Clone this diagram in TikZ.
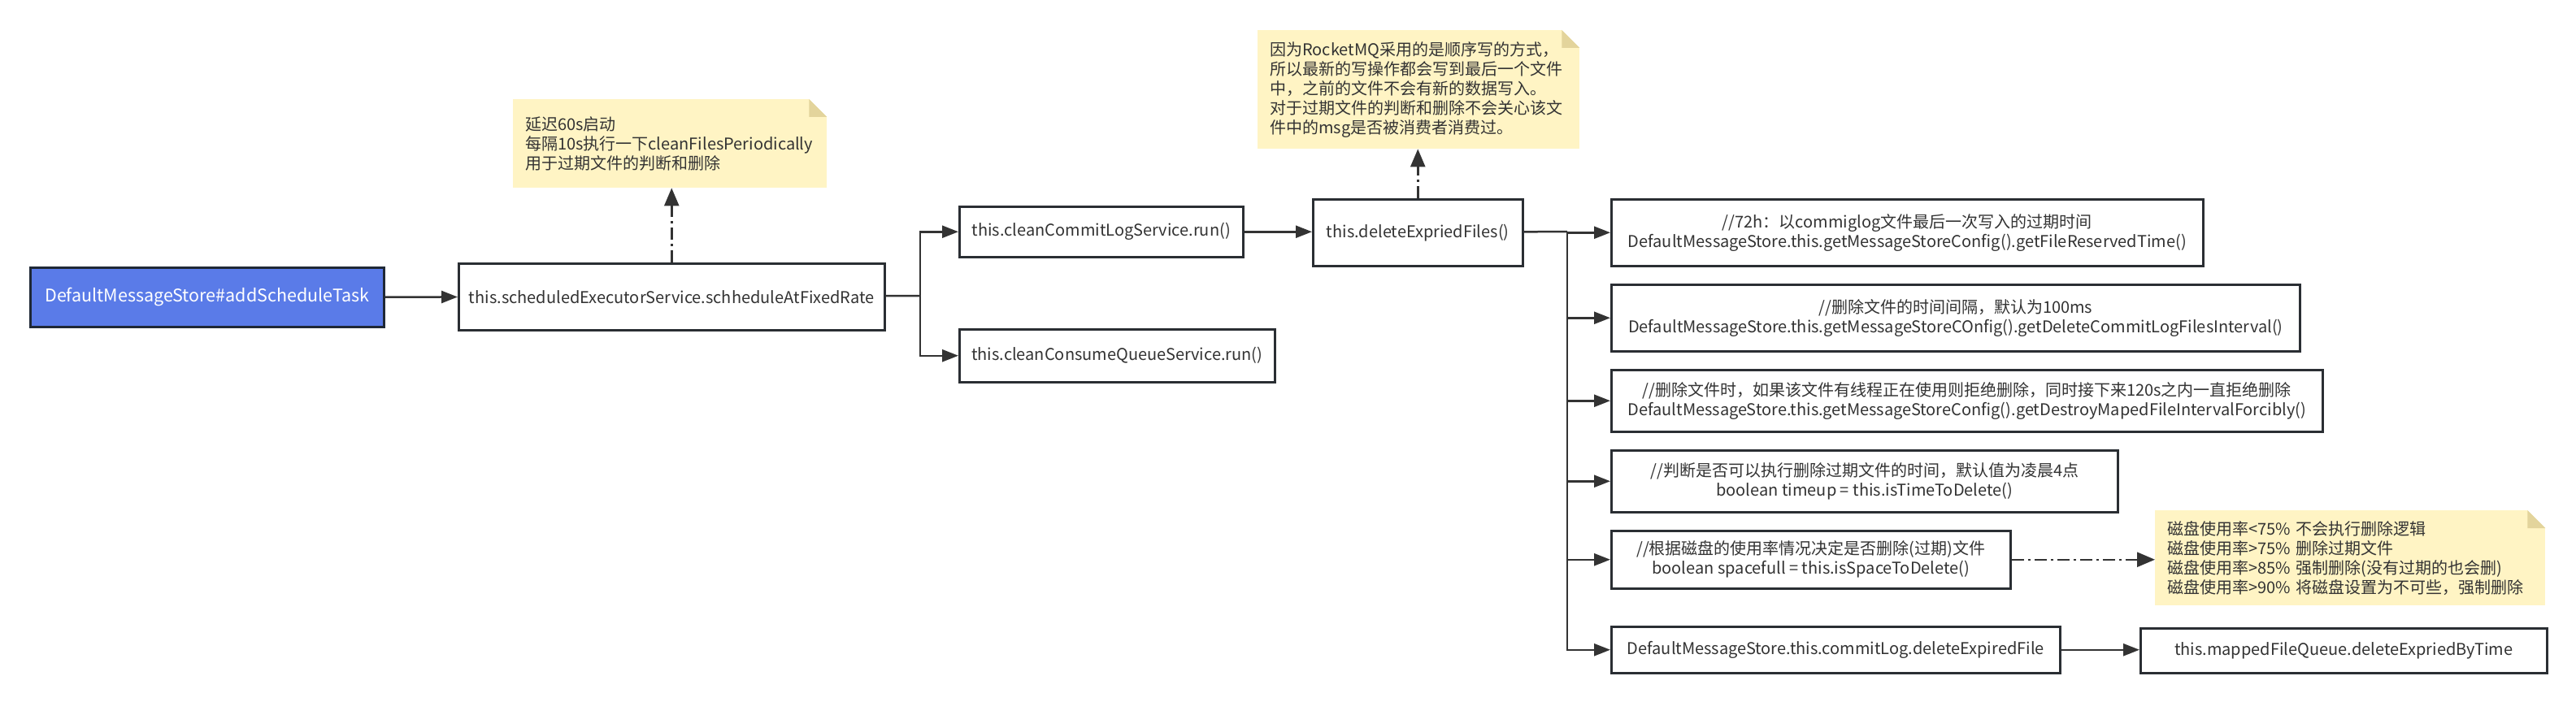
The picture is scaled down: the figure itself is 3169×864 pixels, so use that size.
\documentclass[tikz,border=0pt]{standalone}
\usepackage{fontspec}
\setmainfont{Noto Sans CJK SC}
\usetikzlibrary{arrows.meta, positioning}

\definecolor{blueTask}{HTML}{5A7BE8}
\definecolor{blueEdge}{HTML}{1F2836}
\definecolor{boxline}{HTML}{2A2E33}
\definecolor{linegray}{HTML}{333333}
\definecolor{textgray}{HTML}{333333}
\definecolor{notefill}{HTML}{FFF4C4}
\definecolor{notefoldc}{HTML}{E3D49C}

% folded corner of a note
\newcommand{\notefold}[1]{%
  \fill[white] ([xshift=-22pt]#1.north east) -- (#1.north east) -- ([yshift=-22pt]#1.north east) -- cycle;
  \fill[notefoldc] ([xshift=-22pt]#1.north east) -- ([xshift=-22pt,yshift=-22pt]#1.north east) -- ([yshift=-22pt]#1.north east) -- cycle;}

\begin{document}
\begin{tikzpicture}[x=1pt, y=-1pt,
  font=\fontsize{20pt}{24pt}\selectfont,
  box/.style={draw=boxline, line width=2.5pt, fill=white, text=textgray, align=center, inner sep=0pt, anchor=north west},
  note/.style={fill=notefill, text=textgray, align=left, inner xsep=15pt, inner ysep=0pt, anchor=north west},
  link/.style={draw=linegray, line width=2.5pt},
  flow/.style={link, -{Triangle[length=20pt,width=15pt]}},
  hint/.style={link, dash pattern={on 15pt off 5pt on 3pt off 5pt}, -{Triangle[length=22pt,width=18pt]}}
]
\path[use as bounding box, fill=white] (0,0) rectangle (3169,864);

% Left part - schedule task
\node[box, fill=blueTask, draw=blueEdge, text=white, font=\fontsize{21.5pt}{26pt}\selectfont, minimum width=435pt, minimum height=73pt] (task) at (36,328) {DefaultMessageStore\#addScheduleTask};
\node[box, minimum width=524pt, minimum height=82pt] (sched) at (563,323) {this.scheduledExecutorService.schheduleAtFixedRate};
\node[note, text width=356pt, minimum height=109pt] (delayNote) at (631,122) {延迟60s启动\\每隔10s执行一下cleanFilesPeriodically\\用于过期文件的判断和删除};
\notefold{delayNote}

% Middle part - clean services
\node[box, minimum width=349pt, minimum height=62pt] (commitRun) at (1179,253) {this.cleanCommitLogService.run()};
\node[box, minimum width=388pt, minimum height=65pt] (consumeRun) at (1179,404) {this.cleanConsumeQueueService.run()};
\node[box, minimum width=258pt, minimum height=82pt] (deleteFiles) at (1614,244) {this.deleteExpriedFiles()};
\node[note, text width=366pt, minimum height=146pt] (seqNote) at (1547,37) {因为RocketMQ采用的是顺序写的方式，\\所以最新的写操作都会写到最后一个文件\\中，之前的文件不会有新的数据写入。\\对于过期文件的判断和删除不会关心该文\\件中的msg是否被消费者消费过。};
\notefold{seqNote}

% Right part - delete conditions
\node[box, minimum width=728pt, minimum height=82pt] (reserveTime) at (1981,244) {//72h：以commiglog文件最后一次写入的过期时间\\DefaultMessageStore.this.getMessageStoreConfig().getFileReservedTime()};
\node[box, minimum width=847pt, minimum height=82pt] (interval) at (1981,349) {//删除文件的时间间隔，默认为100ms\\DefaultMessageStore.this.getMessageStoreCOnfig().getDeleteCommitLogFilesInterval()};
\node[box, minimum width=875pt, minimum height=76pt] (forcibly) at (1981,454) {//删除文件时，如果该文件有线程正在使用则拒绝删除，同时接下来120s之内一直拒绝删除\\DefaultMessageStore.this.getMessageStoreConfig().getDestroyMapedFileIntervalForcibly()};
\node[box, minimum width=623pt, minimum height=76pt] (timeUp) at (1981,553) {//判断是否可以执行删除过期文件的时间，默认值为凌晨4点\\boolean timeup = this.isTimeToDelete()};
\node[box, minimum width=491pt, minimum height=71pt] (spaceFull) at (1981,652) {//根据磁盘的使用率情况决定是否删除(过期)文件\\boolean spacefull = this.isSpaceToDelete()};
\node[box, minimum width=552pt, minimum height=57pt] (commitLogDel) at (1981,770) {DefaultMessageStore.this.commitLog.deleteExpiredFile};
\node[box, minimum width=500pt, minimum height=55pt] (byTime) at (2632,772) {this.mappedFileQueue.deleteExpriedByTime};
\node[note, text width=450pt, minimum height=117pt] (diskNote) at (2651,628) {磁盘使用率<75\% 不会执行删除逻辑\\磁盘使用率>75\% 删除过期文件\\磁盘使用率>85\% 强制删除(没有过期的也会删)\\磁盘使用率>90\% 将磁盘设置为不可些，强制删除};
\notefold{diskNote}

% Connectors
\draw[flow] (task) -- (sched);
\coordinate (forkRun) at (1132,364);
\draw[link] (sched) -- (forkRun);
\draw[flow] (forkRun) |- (commitRun);
\draw[flow] (forkRun) |- (consumeRun);
\draw[hint] (sched.north) -- (sched.north |- delayNote.south);
\draw[flow] (commitRun.east) -- (commitRun.east -| deleteFiles.west);
\draw[hint] (deleteFiles.north) -- (deleteFiles.north |- seqNote.south);
\coordinate (forkDel) at (1928,285);
\draw[link] (deleteFiles) -- (forkDel);
\foreach \n in {reserveTime,interval,forcibly,timeUp,spaceFull,commitLogDel}
  \draw[flow] (forkDel) |- (\n);
\draw[hint] (spaceFull.east) -- (spaceFull.east -| diskNote.west);
\draw[flow] (commitLogDel.east) -- (commitLogDel.east -| byTime.west);
\end{tikzpicture}
\end{document}
